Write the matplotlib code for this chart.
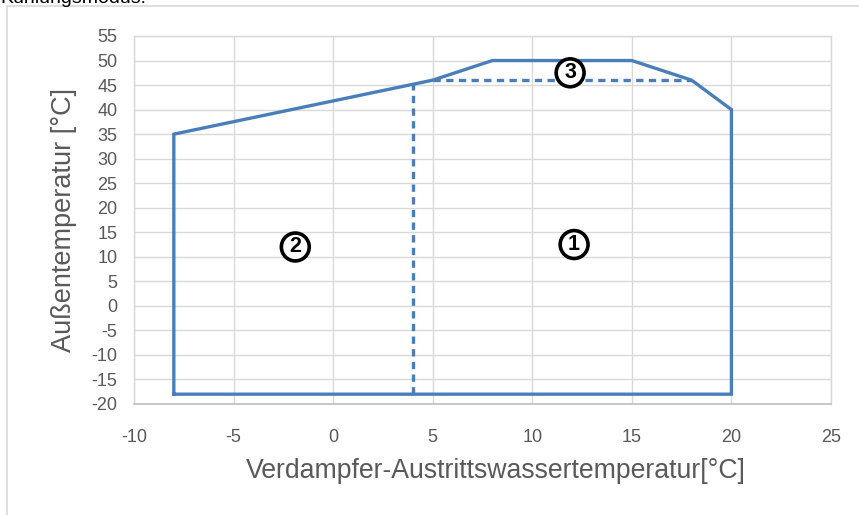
import matplotlib
matplotlib.use("Agg")
import matplotlib.pyplot as plt
from matplotlib.patches import Rectangle

# envelope (solid)
env_x = [-8, -8, 5, 8, 15, 18, 20, 20, -8]
env_y = [-18, 35, 46, 50, 50, 46, 40, -18, -18]
# dashed divisions
div_v_x = [4, 4]
div_v_y = [-18, 45.2]
div_h_x = [5, 18]
div_h_y = [46, 46]
# zone markers
zone_labels = ["1", "2", "3"]
zone_x = [12.1, -1.9, 11.9]
zone_y = [12.5, 12.0, 47.5]

xticks = list(range(-10, 30, 5))
yticks = list(range(-20, 60, 5))

W, H = 859, 515
plt.rcParams['font.family'] = ['Liberation Sans', 'DejaVu Sans']
plt.rcParams['axes.unicode_minus'] = False
fig = plt.figure(figsize=(W / 100, H / 100), dpi=100)

# outer chart border
fig.patches.append(Rectangle((7 / W, -0.1), 1.2, 1 - 6 / H + 0.1, transform=fig.transFigure,
                             fill=False, edgecolor='#d9d9d9', linewidth=1.2))
fig.text(0.0, 1 - 3 / H, "Kühlungsmodus:", fontsize=14, color='black', va='baseline', ha='left')

ax = fig.add_axes([134 / W, 1 - 404 / H, (831 - 134) / W, (404 - 36) / H])
ax.set_xlim(-10, 25)
ax.set_ylim(-20, 55)
ax.set_xticks(xticks)
ax.set_yticks(yticks)
ax.grid(True, color='#d9d9d9', linewidth=1.0)
ax.set_axisbelow(True)
for s in ['top', 'right', 'left']:
    ax.spines[s].set_color('#d9d9d9')
    ax.spines[s].set_linewidth(1.0)
ax.spines['bottom'].set_color('#bfbfbf')
ax.spines['bottom'].set_linewidth(1.2)
ax.tick_params(length=0, labelsize=13, colors='#595959')
ax.tick_params(axis='y', pad=12)
ax.tick_params(axis='x', pad=18)

blue = '#4a7ebb'
ax.plot(env_x, env_y, color=blue, linewidth=2.4, solid_joinstyle='miter')
ax.plot(div_v_x, div_v_y, color=blue, linewidth=2.4, linestyle=(0, (2.2, 1.6)))
ax.plot(div_h_x, div_h_y, color=blue, linewidth=2.4, linestyle=(0, (2.2, 1.6)))

for lab, x, y in zip(zone_labels, zone_x, zone_y):
    ax.text(x, y, lab, ha='center', va='center', fontsize=15.5, fontweight='bold', color='black',
            bbox=dict(boxstyle='circle,pad=0.16', facecolor='white', edgecolor='black', linewidth=2.6))

ax.set_xlabel("Verdampfer-Austrittswassertemperatur[°C]", fontsize=19.2, color='#595959')
ax.xaxis.set_label_coords((496 - 134) / (831 - 134), -(471 - 404) / (404 - 36))
ax.xaxis.label.set_va('center')
ax.set_ylabel("Außentemperatur [°C]", fontsize=19.5, color='#595959', labelpad=10)

fig.savefig("out.png", dpi=100)
